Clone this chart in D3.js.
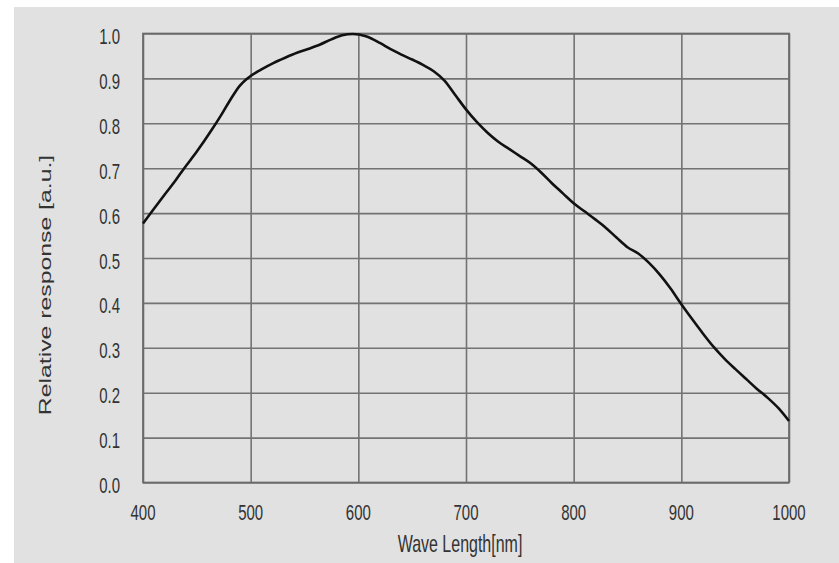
<html>
<head>
<script src="https://d3js.org/d3.v7.min.js"></script>
<style>
  body { margin: 0; background: #fff; }
  text { font-family: "Liberation Sans", Arial, sans-serif; fill: #333; }
</style>
</head>
<body>
<div id="my_dataviz"></div>
<script>
// wave length (nm) and relative response
var waveLength = [400, 410, 420, 430, 438, 450, 464, 472, 480, 490, 497, 510, 521, 532, 543, 554, 564, 575, 585, 595,
  607, 620, 630, 640, 650, 660, 670, 680, 690, 700, 710, 720, 730, 740, 750, 760, 770, 780,
  790, 800, 810, 820, 830, 840, 850, 860, 870, 880, 890, 900, 910, 920, 930, 940, 950, 960, 970, 980, 990, 1000];
var response = [0.577, 0.609, 0.641, 0.672, 0.699, 0.737, 0.786, 0.816, 0.848, 0.884, 0.900, 0.920, 0.934, 0.946, 0.957, 0.966, 0.975, 0.987, 0.996, 0.999,
  0.994, 0.979, 0.965, 0.953, 0.942, 0.930, 0.916, 0.895, 0.863, 0.831, 0.803, 0.779, 0.759, 0.743, 0.727, 0.711, 0.690, 0.666,
  0.644, 0.622, 0.604, 0.586, 0.567, 0.545, 0.524, 0.510, 0.489, 0.463, 0.432, 0.397, 0.364, 0.332, 0.302, 0.276, 0.253, 0.231, 0.209, 0.189, 0.166, 0.137];
var xTicks = [400, 500, 600, 700, 800, 900, 1000];
var yTicks = [0, 0.1, 0.2, 0.3, 0.4, 0.5, 0.6, 0.7, 0.8, 0.9, 1.0];

var margin = {top: 33.5, right: 50, bottom: 80.5, left: 143},
    width = 839 - margin.left - margin.right,
    height = 563 - margin.top - margin.bottom;

var root = d3.select("#my_dataviz").append("svg")
    .attr("width", 839).attr("height", 563);

// grey page behind the chart
root.append("rect").attr("x", 14).attr("y", 7).attr("width", 825).attr("height", 556).attr("fill", "#e1e1e1");

var svg = root.append("g")
    .attr("transform", "translate(" + margin.left + "," + margin.top + ")");

var x = d3.scaleLinear().domain([400, 1000]).range([0, width]);
var y = d3.scaleLinear().domain([0, 1]).range([height, 0]);

// grid
svg.append("g")
  .attr("transform", "translate(0," + height + ")")
  .call(d3.axisBottom(x).tickValues(xTicks).tickSize(-height).tickFormat(""))
  .call(function(g) { g.select(".domain").remove(); })
  .selectAll("line").attr("stroke", "#737373").attr("stroke-width", 1.6);
svg.append("g")
  .call(d3.axisLeft(y).tickValues(yTicks).tickSize(-width).tickFormat(""))
  .call(function(g) { g.select(".domain").remove(); })
  .selectAll("line").attr("stroke", "#737373").attr("stroke-width", 1.6);

svg.append("rect")
  .attr("width", width).attr("height", height)
  .attr("fill", "none").attr("stroke", "#6a6a6a").attr("stroke-width", 1.7);

// tick labels (the picture is stretched vertically, so the text is too)
svg.selectAll(".xl").data(xTicks).enter().append("text")
  .attr("transform", function(d) { return "translate(" + x(d) + "," + (height + 37) + ") scale(1,1.5)"; })
  .attr("text-anchor", "middle").style("font-size", "15px")
  .text(function(d) { return d; });
svg.selectAll(".yl").data(yTicks).enter().append("text")
  .attr("transform", function(d) { return "translate(-23," + (y(d) + 10.5) + ") scale(1,1.5)"; })
  .attr("text-anchor", "end").style("font-size", "15px")
  .text(function(d) { return d3.format(".1f")(d); });

// axis titles
root.append("text")
  .attr("transform", "translate(460,552) scale(1,1.5)")
  .attr("text-anchor", "middle").style("font-size", "16px")
  .text("Wave Length[nm]");
root.append("text")
  .attr("transform", "translate(51,285) rotate(-90) scale(1.55,1)")
  .attr("text-anchor", "middle").style("font-size", "16px")
  .text("Relative response [a.u.]");

// the curve
var data = waveLength.map(function(w, i) { return {w: w, r: response[i]}; });
svg.append("path")
  .datum(data)
  .attr("fill", "none")
  .attr("stroke", "#111")
  .attr("stroke-width", 2.6)
  .attr("stroke-linejoin", "round")
  .attr("d", d3.line()
    .curve(d3.curveMonotoneX)
    .x(function(d) { return x(d.w); })
    .y(function(d) { return y(d.r); }));
</script>
</body>
</html>
